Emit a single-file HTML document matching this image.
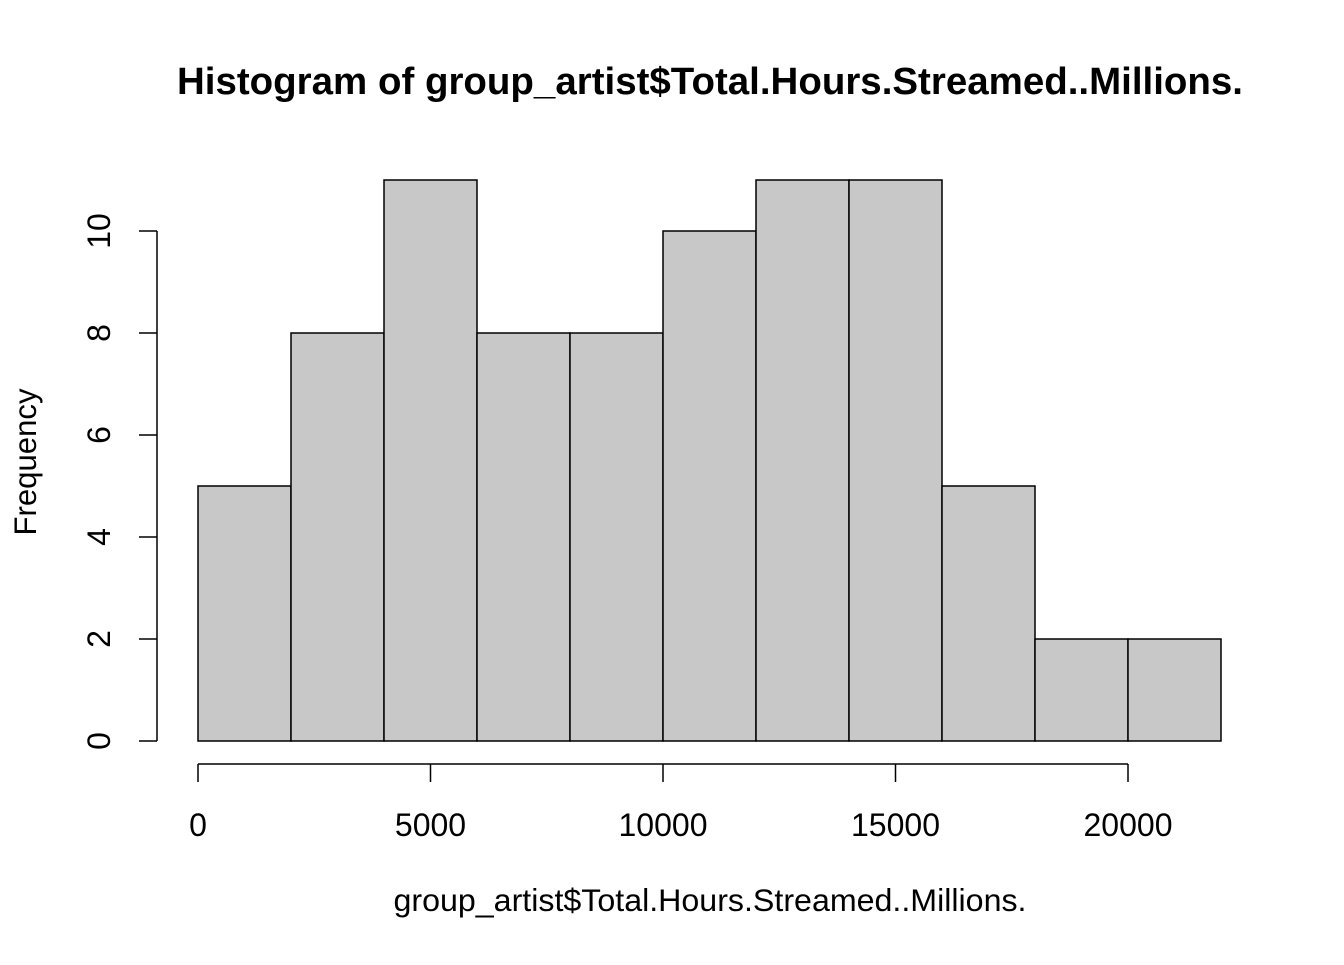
<!DOCTYPE html>
<html><head><meta charset="utf-8"><style>
body{margin:0;background:#fff}
svg text{font-family:"Liberation Sans",Arial,sans-serif;fill:#000}
</style></head><body>
<svg id="chart" width="1344" height="960" xmlns="http://www.w3.org/2000/svg">
<rect width="1344" height="960" fill="#fff"/>
<text x="710" y="94" font-size="38" font-weight="bold" text-anchor="middle" textLength="1066" lengthAdjust="spacingAndGlyphs">Histogram of group_artist$Total.Hours.Streamed..Millions.</text>
<text x="710" y="911" font-size="31.5" text-anchor="middle" textLength="633" lengthAdjust="spacingAndGlyphs">group_artist$Total.Hours.Streamed..Millions.</text>
<text transform="translate(36,462) rotate(-90)" font-size="31.5" text-anchor="middle" textLength="147" lengthAdjust="spacingAndGlyphs">Frequency</text>
<g id="bars"></g><g id="xaxis"></g><g id="yaxis"></g>
</svg>
<script>
const binStarts=[0,2000,4000,6000,8000,10000,12000,14000,16000,18000,20000];
const binWidth=2000;
const counts=[5,8,11,8,8,10,11,11,5,2,2];
const xTicks=[0,5000,10000,15000,20000];
const yTicks=[0,2,4,6,8,10];
const NS="http://www.w3.org/2000/svg";
function X(v){return 198+v*(1128-198)/20000;}
function Y(v){return 741-v*51;}
function mk(t,a,p){const e=document.createElementNS(NS,t);for(const k in a)e.setAttribute(k,a[k]);p.appendChild(e);return e;}
const bars=document.getElementById('bars');
binStarts.forEach((s,i)=>{
 const r=mk('rect',{x:X(s),y:Y(counts[i]),width:X(s+binWidth)-X(s),height:Y(0)-Y(counts[i]),fill:'#c8c8c8',stroke:'#000','stroke-width':1.5},bars);
 
 
});
const xa=document.getElementById('xaxis');
const xl=mk('line',{x1:X(xTicks[0]),x2:X(xTicks[xTicks.length-1]),y1:764,y2:764,stroke:'#000','stroke-width':1.5},xa);


xTicks.forEach(v=>{
 mk('line',{x1:X(v),x2:X(v),y1:764,y2:782,stroke:'#000','stroke-width':1.5},xa);
 const t=mk('text',{x:X(v),y:836,'font-size':32,'text-anchor':'middle'},xa);t.textContent=v;
 
 
});
const ya=document.getElementById('yaxis');
const yl=mk('line',{x1:157,x2:157,y1:Y(yTicks[0]),y2:Y(yTicks[yTicks.length-1]),stroke:'#000','stroke-width':1.5},ya);


yTicks.forEach(v=>{
 mk('line',{x1:139,x2:157,y1:Y(v),y2:Y(v),stroke:'#000','stroke-width':1.5},ya);
 const t=mk('text',{transform:`translate(110,${Y(v)}) rotate(-90)`,'font-size':32,'text-anchor':'middle'},ya);t.textContent=v;
 
 
});
</script>
</body></html>
